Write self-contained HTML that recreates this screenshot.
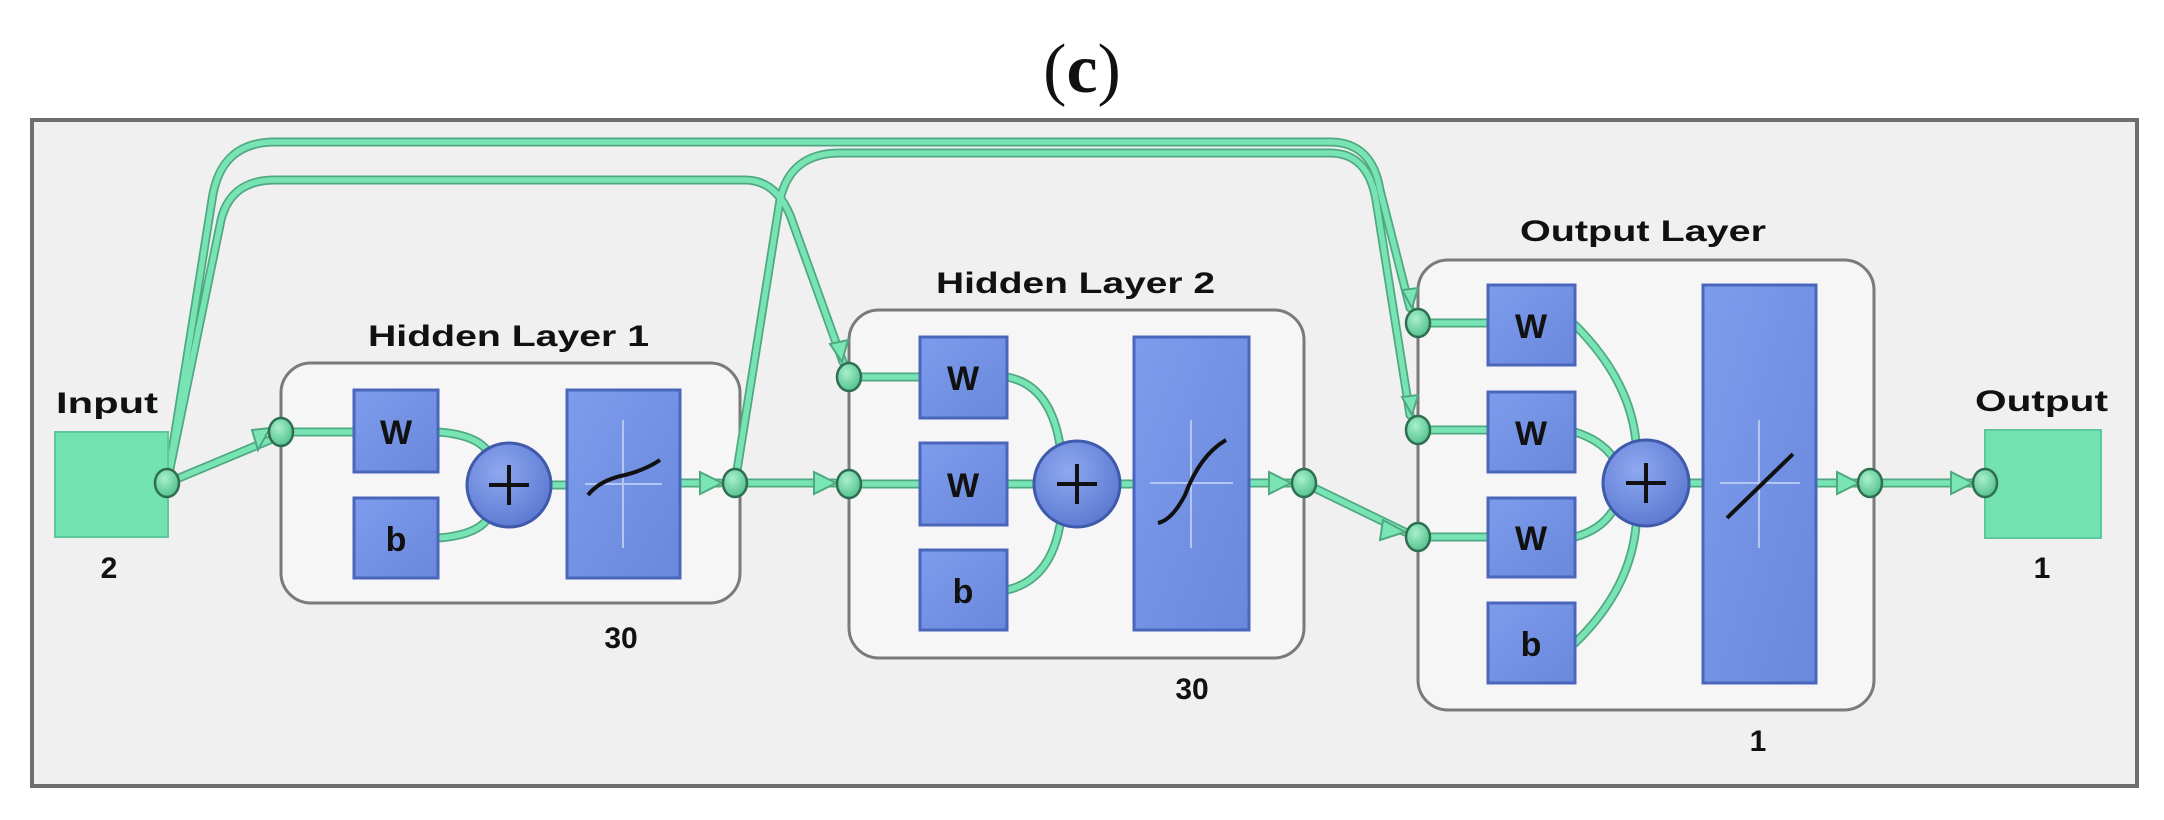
<!DOCTYPE html>
<html><head><meta charset="utf-8"><style>
html,body{margin:0;padding:0;background:#fff;}
svg{display:block;}
text{font-family:"Liberation Sans","DejaVu Sans",sans-serif;font-weight:bold;fill:#111;}
</style></head><body>
<svg width="2164" height="820" viewBox="0 0 2164 820" xmlns="http://www.w3.org/2000/svg">
<defs>
<linearGradient id="bl" x1="0" y1="0" x2="1" y2="1"><stop offset="0" stop-color="#7d9cec"/><stop offset="1" stop-color="#6a88dc"/></linearGradient>
<radialGradient id="nd" cx="0.4" cy="0.35" r="0.7"><stop offset="0" stop-color="#a8f0cc"/><stop offset="1" stop-color="#4fbf8a"/></radialGradient>
<radialGradient id="pl" cx="0.4" cy="0.35" r="0.7"><stop offset="0" stop-color="#8fa8f0"/><stop offset="1" stop-color="#5a78d0"/></radialGradient>
</defs>
<text x="1082" y="92" font-family="Liberation Serif" font-size="70" font-weight="normal" text-anchor="middle" style="font-family:'Liberation Serif',serif;font-weight:normal">(<tspan font-weight="bold" style="font-weight:bold">c</tspan>)</text>
<rect x="32" y="120" width="2105" height="666" fill="#f0f0f0" stroke="#6e6e6e" stroke-width="4"/>

<!-- layer boxes -->
<rect x="281" y="363" width="459" height="240" rx="30" fill="#f6f6f6" stroke="#7a7a7a" stroke-width="3"/>
<rect x="849" y="310" width="455" height="348" rx="30" fill="#f6f6f6" stroke="#7a7a7a" stroke-width="3"/>
<rect x="1418" y="260" width="456" height="450" rx="30" fill="#f6f6f6" stroke="#7a7a7a" stroke-width="3"/>

<g fill="none" stroke-linecap="round" stroke-linejoin="round">
<g stroke="#4fa882" stroke-width="9">
<path d="M167,483 L212,200 Q220,142 275,142 L1330,142 Q1372,142 1380,190 L1410,308"/>
<path d="M167,483 L220,225 Q228,180 275,180 L745,180 Q775,180 790,215 L843,362"/>
<path d="M735,483 L780,200 Q790,153 840,153 L1330,153 Q1368,153 1376,200 L1410,415"/>
<path d="M167,483 L270,440"/>
<path d="M735,483 L835,483"/>
<path d="M1304,483 L1405,532"/>
<path d="M1870,483 L1975,483"/>
<path d="M281,432 L354,432 M438,432 Q480,435 490,455 M438,538 Q480,535 490,515 M551,485 L567,485 M680,483 L720,483"/>
<path d="M849,377 L920,377 M849,484 L920,484 M1007,377 Q1050,385 1060,445 M1007,484 L1035,484 M1007,590 Q1050,580 1060,525 M1120,484 L1134,484 M1249,483 L1290,483"/>
<path d="M1418,323 L1488,323 M1418,430 L1488,430 M1418,537 L1488,537 M1575,325 Q1630,380 1636,442 M1575,432 Q1600,440 1612,456 M1575,537 Q1600,530 1612,512 M1575,643 Q1630,590 1636,526 M1689,483 L1703,483 M1816,483 L1858,483"/>
</g>
<g stroke="#78e4b4" stroke-width="5.5">
<path d="M167,483 L212,200 Q220,142 275,142 L1330,142 Q1372,142 1380,190 L1410,308"/>
<path d="M167,483 L220,225 Q228,180 275,180 L745,180 Q775,180 790,215 L843,362"/>
<path d="M735,483 L780,200 Q790,153 840,153 L1330,153 Q1368,153 1376,200 L1410,415"/>
<path d="M167,483 L270,440"/>
<path d="M735,483 L835,483"/>
<path d="M1304,483 L1405,532"/>
<path d="M1870,483 L1975,483"/>
<path d="M281,432 L354,432 M438,432 Q480,435 490,455 M438,538 Q480,535 490,515 M551,485 L567,485 M680,483 L720,483"/>
<path d="M849,377 L920,377 M849,484 L920,484 M1007,377 Q1050,385 1060,445 M1007,484 L1035,484 M1007,590 Q1050,580 1060,525 M1120,484 L1134,484 M1249,483 L1290,483"/>
<path d="M1418,323 L1488,323 M1418,430 L1488,430 M1418,537 L1488,537 M1575,325 Q1630,380 1636,442 M1575,432 Q1600,440 1612,456 M1575,537 Q1600,530 1612,512 M1575,643 Q1630,590 1636,526 M1689,483 L1703,483 M1816,483 L1858,483"/>
</g>
</g>

<!-- arrowheads -->
<g fill="#7ae6b6" stroke="#4fa882" stroke-width="2">
<polygon points="270,428 252,430 258,450"/>
<polygon points="722,483 700,472 700,494"/>
<polygon points="836,483 814,472 814,494"/>
<polygon points="1291,483 1269,472 1269,494"/>
<polygon points="1405,532 1383,520 1380,540"/>
<polygon points="1859,483 1837,472 1837,494"/>
<polygon points="1973,483 1951,472 1951,494"/>
<polygon points="842,362 830,344 848,340"/>
<polygon points="1412,308 1402,290 1418,288"/>
<polygon points="1412,415 1402,397 1418,395"/>
</g>

<!-- input/output boxes -->
<rect x="55" y="432" width="113" height="105" fill="#72e2b0" stroke="#5ec89a" stroke-width="2"/>
<rect x="1985" y="430" width="116" height="108" fill="#72e2b0" stroke="#5ec89a" stroke-width="2"/>

<!-- blue blocks -->
<g fill="url(#bl)" stroke="#4a66bc" stroke-width="3">
<rect x="354" y="390" width="84" height="82"/>
<rect x="354" y="498" width="84" height="80"/>
<rect x="567" y="390" width="113" height="188"/>
<rect x="920" y="337" width="87" height="81"/>
<rect x="920" y="443" width="87" height="82"/>
<rect x="920" y="550" width="87" height="80"/>
<rect x="1134" y="337" width="115" height="293"/>
<rect x="1488" y="285" width="87" height="80"/>
<rect x="1488" y="392" width="87" height="80"/>
<rect x="1488" y="498" width="87" height="79"/>
<rect x="1488" y="603" width="87" height="80"/>
<rect x="1703" y="285" width="113" height="398"/>
</g>
<!-- transfer crosshairs & curves -->
<g stroke="#b4c6f4" stroke-width="2">
<path d="M623,420 V548 M585,484 H662"/>
<path d="M1191,420 V548 M1150,483 H1233"/>
<path d="M1759,420 V548 M1720,483 H1800"/>
</g>
<g fill="none" stroke="#111" stroke-width="4">
<path d="M588,495 Q600,480 625,475 Q645,470 660,460"/>
<path d="M1158,523 Q1172,520 1185,495 Q1200,455 1226,440"/>
<path d="M1727,518 L1793,454"/>
</g>
<!-- plus circles -->
<g fill="url(#pl)" stroke="#3f5aaa" stroke-width="3">
<circle cx="509" cy="485" r="42"/>
<circle cx="1077" cy="484" r="43"/>
<circle cx="1646" cy="483" r="43"/>
</g>
<g stroke="#111" stroke-width="4">
<path d="M509,465 V505 M489,485 H529"/>
<path d="M1077,464 V504 M1057,484 H1097"/>
<path d="M1646,463 V503 M1626,483 H1666"/>
</g>
<!-- nodes -->
<g fill="url(#nd)" stroke="#2f6e50" stroke-width="2.5">
<ellipse cx="167" cy="483" rx="12" ry="14"/>
<ellipse cx="281" cy="432" rx="12" ry="14"/>
<ellipse cx="735" cy="483" rx="12" ry="14"/>
<ellipse cx="849" cy="377" rx="12" ry="14"/>
<ellipse cx="849" cy="484" rx="12" ry="14"/>
<ellipse cx="1304" cy="483" rx="12" ry="14"/>
<ellipse cx="1418" cy="323" rx="12" ry="14"/>
<ellipse cx="1418" cy="430" rx="12" ry="14"/>
<ellipse cx="1418" cy="537" rx="12" ry="14"/>
<ellipse cx="1870" cy="483" rx="12" ry="14"/>
<ellipse cx="1985" cy="483" rx="12" ry="14"/>
</g>

<!-- letters -->
<g font-size="34" text-anchor="middle">
<text x="396" y="444">W</text><text x="396" y="551">b</text>
<text x="963" y="390">W</text><text x="963" y="497">W</text><text x="963" y="603">b</text>
<text x="1531" y="338">W</text><text x="1531" y="445">W</text><text x="1531" y="550">W</text><text x="1531" y="656">b</text>
</g>
<g font-size="30">
<text x="56" y="413" textLength="102" lengthAdjust="spacingAndGlyphs">Input</text>
<text x="1975" y="411" textLength="133" lengthAdjust="spacingAndGlyphs">Output</text>
<text x="368" y="346" textLength="281" lengthAdjust="spacingAndGlyphs">Hidden Layer 1</text>
<text x="936" y="293" textLength="279" lengthAdjust="spacingAndGlyphs">Hidden Layer 2</text>
<text x="1520" y="241" textLength="246" lengthAdjust="spacingAndGlyphs">Output Layer</text>
</g>
<g font-size="30" text-anchor="middle">
<text x="109" y="578">2</text>
<text x="621" y="648">30</text>
<text x="1192" y="699">30</text>
<text x="1758" y="751">1</text>
<text x="2042" y="578">1</text>
</g>
</svg>
</body></html>
